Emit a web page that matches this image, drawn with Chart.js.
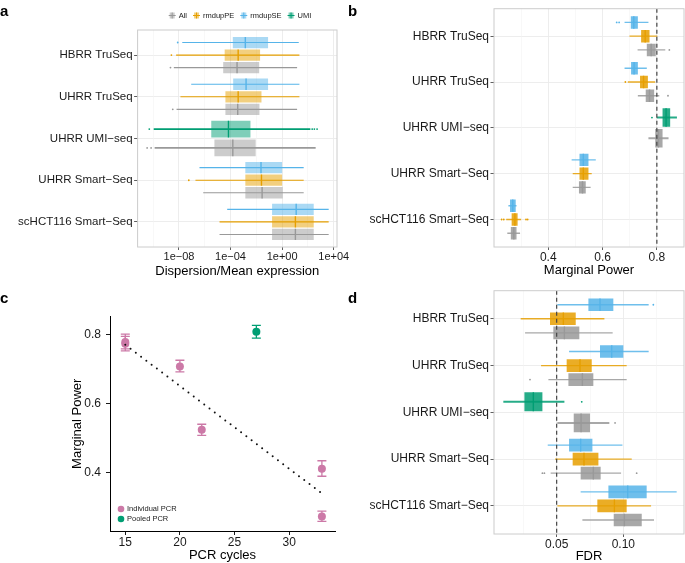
<!DOCTYPE html>
<html>
<head>
<meta charset="utf-8">
<script src="https://cdn.jsdelivr.net/npm/chart.js@4.4.1/dist/chart.umd.min.js"></script>
<style>
  body { margin: 0; width: 685px; height: 563px; position: relative; overflow: hidden; background: #fff;
         font-family: "Liberation Sans", Arial, sans-serif; }
  canvas { position: absolute; }
  .tag { position: absolute; font-size: 15px; font-weight: bold; line-height: 15px; color: #000; }
</style>
</head>
<body>
<canvas id="panelA" width="360" height="282" style="left:0;top:0"></canvas>
<canvas id="panelB" width="340" height="282" style="left:345px;top:0"></canvas>
<canvas id="panelC" width="345" height="283" style="left:0;top:280px"></canvas>
<canvas id="panelD" width="340" height="284" style="left:345px;top:282px"></canvas>
<div class="tag" style="left:0px;top:3px">a</div>
<div class="tag" style="left:348px;top:3px">b</div>
<div class="tag" style="left:0px;top:290px">c</div>
<div class="tag" style="left:348px;top:290px">d</div>
<script>
const cats = ['HBRR TruSeq', 'UHRR TruSeq', 'UHRR UMI−seq', 'UHRR Smart−Seq', 'scHCT116 Smart−Seq'];
// order of the boxes inside one row, top to bottom
const groupOrder = ['rmdupSE', 'rmdupPE', 'UMI', 'All'];
const legendOrder = ['All', 'rmdupPE', 'rmdupSE', 'UMI'];
const groupColor = { rmdupSE: '#56B4E9', rmdupPE: '#E69F00', UMI: '#009E73', All: '#999999' };

// a) dispersion / mean expression, [low whisker, q1, median, q3, high whisker]
const dispSE = [[1.8e-8, 1.5e-4, 1.4e-3, 0.081, 19.5], [8.9e-8, 1.6e-4, 1.6e-3, 0.081, 21.9], null,
                [3.9e-7, 1.4e-3, 0.023, 1.0, 47], [5.5e-5, 0.166, 12.3, 282, 4070]];
const dispPE = [[6.0e-9, 3.5e-5, 3.9e-4, 0.0195, 21.9], [1.3e-8, 4.0e-5, 3.9e-4, 0.025, 21.9], null,
                [1.9e-7, 1.4e-3, 0.025, 1.0, 47], [1.4e-5, 0.166, 10.7, 282, 4070]];
const dispUMI = [null, null, [1.1e-10, 3.2e-6, 6.9e-5, 3.5e-3, 155], null, null];
const dispAll = [[4.0e-9, 2.7e-5, 3.2e-4, 0.0166, 14.5], [6.5e-9, 4.0e-5, 3.6e-4, 0.0174, 14.5],
                 [1.3e-10, 5.6e-6, 1.5e-4, 8.9e-3, 398], [7.6e-7, 1.4e-3, 0.028, 1.1, 47],
                 [1.4e-5, 0.166, 10.7, 282, 4070]];
const dispOutSE = [[8e-9], [], [], [], []];
const dispOutPE = [[2.6e-9], [], [], [5.8e-8], []];
const dispOutUMI = [[], [], [5e-11, 214, 316, 513], [], []];
const dispOutAll = [[2.2e-9], [3.3e-9], [3.4e-11, 6.9e-11], [], []];
const dispTicks = [1e-8, 1e-4, 1, 1e4];
const dispMinor = [1e-10, 1e-6, 1e-2, 1e2];

// b) marginal power
const powerSE = [[0.681, 0.704, 0.715, 0.730, 0.769], [0.681, 0.705, 0.716, 0.730, 0.763], null,
                 [0.486, 0.515, 0.529, 0.548, 0.575], [0.253, 0.259, 0.269, 0.280, 0.283]];
const powerPE = [[0.699, 0.742, 0.757, 0.773, 0.802], [0.693, 0.738, 0.751, 0.767, 0.794], null,
                 [0.490, 0.515, 0.529, 0.548, 0.560], [0.245, 0.265, 0.277, 0.287, 0.300]];
const powerUMI = [null, null, [0.800, 0.821, 0.834, 0.849, 0.874], null, null];
const powerAll = [[0.729, 0.763, 0.779, 0.796, 0.831], [0.730, 0.759, 0.773, 0.790, 0.809],
                  [0.769, 0.794, 0.806, 0.821, 0.843], [0.490, 0.513, 0.526, 0.538, 0.556],
                  [0.249, 0.262, 0.273, 0.283, 0.296]];
const powerOutSE = [[0.652, 0.661], [], [], [], []];
const powerOutPE = [[], [0.684], [], [], [0.228, 0.236, 0.318, 0.324]];
const powerOutUMI = [[], [], [0.782], [], []];
const powerOutAll = [[0.846], [0.841], [], [], []];
const powerTicks = [0.4, 0.6, 0.8];
const powerMinor = [0.3, 0.5, 0.7];
const powerTarget = 0.8;

// d) FDR
const fdrSE = [[0.0505, 0.0738, 0.0825, 0.0925, 0.119], [0.0593, 0.0825, 0.0913, 0.100, 0.119], null,
               [0.0433, 0.0593, 0.068, 0.0768, 0.0993], [0.068, 0.0888, 0.1033, 0.1175, 0.140]];
const fdrPE = [[0.023, 0.045, 0.055, 0.0643, 0.0858], [0.0383, 0.0575, 0.0675, 0.0763, 0.1025], null,
               [0.0488, 0.062, 0.0705, 0.0813, 0.1063], [0.0505, 0.0805, 0.0933, 0.1025, 0.1208]];
const fdrUMI = [null, null, [0.010, 0.0258, 0.0325, 0.0393, 0.0558], null, null];
const fdrAll = [[0.0263, 0.0475, 0.0558, 0.067, 0.092], [0.0438, 0.0588, 0.0693, 0.0775, 0.1025],
                [0.0505, 0.0628, 0.0683, 0.075, 0.0895], [0.0455, 0.068, 0.0775, 0.083, 0.0983],
                [0.0693, 0.0928, 0.1008, 0.1138, 0.123]];
const fdrOutSE = [[0.1225], [], [], [], []];
const fdrOutPE = [[], [], [], [], []];
const fdrOutUMI = [[], [], [0.0688], [], []];
const fdrOutAll = [[], [0.030], [0.0938], [0.0393, 0.0408, 0.110], []];
const fdrTicks = [0.05, 0.10];
const fdrMinor = [0.025, 0.075, 0.125];
const fdrTarget = 0.05;

// c) marginal power vs PCR cycles
const pcrX = [15, 15, 20, 22, 33, 33];
const pcrPower = [0.779, 0.774, 0.708, 0.524, 0.411, 0.272];
const pcrLow = [0.753, 0.759, 0.692, 0.508, 0.389, 0.258];
const pcrHigh = [0.802, 0.795, 0.726, 0.540, 0.434, 0.288];
const pooledX = [27];
const pooledPower = [0.809];
const pooledLow = [0.790];
const pooledHigh = [0.827];
const trendX = [15, 33];
const trendY = [0.771, 0.339];
const cycleTicks = [15, 20, 25, 30];
const cPowerTicks = [0.4, 0.6, 0.8];

const FONT = '"Liberation Sans", Arial, sans-serif';
Chart.defaults.font.family = FONT;
Chart.defaults.color = '#1a1a1a';

function rgba(hex, a) {
    const n = parseInt(hex.slice(1), 16);
    return `rgba(${n >> 16},${(n >> 8) & 255},${n & 255},${a})`;
}

// one box dataset and one whisker dataset per group, sharing a stack slot
function boxSets(stats, outs, boxAlpha, lineAlpha) {
    const boxes = [], whiskers = [];
    groupOrder.forEach((g) => {
        const s = stats[g], col = groupColor[g];
        boxes.push({
            label: g, stack: g, skipNull: true,
            barPercentage: 0.9, categoryPercentage: 0.9,
            backgroundColor: rgba(col, boxAlpha), borderWidth: 0,
            data: s.map((v, i) => ({ y: i, x: v ? [v[1], v[3]] : null })),
            medians: s.map((v) => (v ? v[2] : null)),
            medianColor: col,
        });
        whiskers.push({
            label: g + ' range', stack: g, skipNull: true,
            barPercentage: 0.095, categoryPercentage: 0.9,
            backgroundColor: rgba(col, lineAlpha), borderWidth: 0,
            data: s.map((v, i) => ({ y: i, x: v ? [v[0], v[4]] : null })),
            outliers: outs[g], dotColor: col,
        });
    });
    return boxes.concat(whiskers);
}

const extras = {
    id: 'extras',
    beforeDatasetsDraw(chart, args, opts) {
        // error bars for panel c
        const ctx = chart.ctx, ys = chart.scales.y;
        chart.data.datasets.forEach((ds, di) => {
            if (!ds.low) return;
            chart.getDatasetMeta(di).data.forEach((pt, i) => {
                const y1 = ys.getPixelForValue(ds.low[i]), y2 = ys.getPixelForValue(ds.high[i]);
                ctx.save();
                ctx.strokeStyle = ds.backgroundColor;
                ctx.lineWidth = 1.3;
                ctx.beginPath();
                ctx.moveTo(pt.x, y1); ctx.lineTo(pt.x, y2);
                ctx.moveTo(pt.x - 4.5, y1); ctx.lineTo(pt.x + 4.5, y1);
                ctx.moveTo(pt.x - 4.5, y2); ctx.lineTo(pt.x + 4.5, y2);
                ctx.stroke();
                ctx.restore();
            });
        });
    },
    afterDatasetsDraw(chart, args, opts) {
        const ctx = chart.ctx, area = chart.chartArea, xs = chart.scales.x;
        ctx.save();
        ctx.beginPath();
        ctx.rect(area.left, area.top, area.right - area.left, area.bottom - area.top);
        ctx.clip();
        chart.data.datasets.forEach((ds, di) => {
            const bars = chart.getDatasetMeta(di).data;
            if (ds.medians) {
                bars.forEach((bar, i) => {
                    if (ds.medians[i] == null) return;
                    const px = xs.getPixelForValue(ds.medians[i]);
                    ctx.strokeStyle = ds.medianColor;
                    ctx.lineWidth = 1.4;
                    ctx.beginPath();
                    ctx.moveTo(px, bar.y - bar.height / 2);
                    ctx.lineTo(px, bar.y + bar.height / 2);
                    ctx.stroke();
                });
            }
            if (ds.outliers) {
                bars.forEach((bar, i) => {
                    (ds.outliers[i] || []).forEach((v) => {
                        ctx.fillStyle = ds.dotColor;
                        ctx.beginPath();
                        ctx.arc(xs.getPixelForValue(v), bar.y, 0.9, 0, 2 * Math.PI);
                        ctx.fill();
                    });
                });
            }
        });
        if (opts.refLine != null) {
            const px = xs.getPixelForValue(opts.refLine);
            ctx.strokeStyle = '#444';
            ctx.lineWidth = 1.2;
            ctx.setLineDash([4, 3]);
            ctx.beginPath();
            ctx.moveTo(px, area.top);
            ctx.lineTo(px, area.bottom);
            ctx.stroke();
        }
        ctx.restore();

        if (opts.frame) {
            ctx.save();
            ctx.strokeStyle = '#cccccc';
            ctx.lineWidth = 1;
            ctx.strokeRect(area.left, area.top, area.right - area.left, area.bottom - area.top);
            ctx.restore();
        }

        // boxplot legend for panel a
        if (opts.boxLegend) {
            const L = opts.boxLegend;
            ctx.save();
            ctx.font = '7.5px ' + FONT;
            ctx.textBaseline = 'middle';
            const widths = L.groups.map((g) => 10 + ctx.measureText(g).width);
            const total = widths.reduce((a, b) => a + b, 0) + 6 * (L.groups.length - 1);
            let x = L.centerX - total / 2;
            L.groups.forEach((g, k) => {
                const col = groupColor[g];
                ctx.strokeStyle = col;
                ctx.lineWidth = 1;
                ctx.beginPath();
                ctx.moveTo(x, L.y); ctx.lineTo(x + 7, L.y);
                ctx.stroke();
                ctx.fillStyle = rgba(col, L.alpha);
                ctx.fillRect(x + 1, L.y - 3, 5, 6);
                ctx.beginPath();
                ctx.moveTo(x + 3.5, L.y - 3); ctx.lineTo(x + 3.5, L.y + 3);
                ctx.stroke();
                ctx.fillStyle = '#1a1a1a';
                ctx.fillText(g, x + 10, L.y);
                x += widths[k] + 6;
            });
            ctx.restore();
        }

        // point legend for panel c
        if (opts.dotLegend) {
            const L = opts.dotLegend;
            ctx.save();
            ctx.font = '7.5px ' + FONT;
            ctx.textBaseline = 'middle';
            L.items.forEach((it, k) => {
                const y = area.bottom - L.dy + k * 10;
                ctx.fillStyle = it.color;
                ctx.beginPath();
                ctx.arc(area.left + L.dx, y, 3.3, 0, 2 * Math.PI);
                ctx.fill();
                ctx.fillStyle = '#1a1a1a';
                ctx.fillText(it.label, area.left + L.dx + 6, y);
            });
            ctx.restore();
        }
    },
};

function valueGrid() {
    return {
        color: (c) => (c.tick && c.tick.minor ? '#f3f3f3' : '#ebebeb'),
        lineWidth: (c) => (c.tick && c.tick.minor ? 0.6 : 0.9),
        tickColor: (c) => (c.tick && c.tick.minor ? 'rgba(0,0,0,0)' : '#4d4d4d'),
        tickLength: 3,
    };
}

function boxPanel(id, o) {
    return new Chart(document.getElementById(id), {
        type: 'bar',
        data: { datasets: boxSets(o.stats, o.outs, o.boxAlpha, o.lineAlpha) },
        options: {
            indexAxis: 'y',
            responsive: false,
            animation: false,
            devicePixelRatio: 1,
            layout: { padding: o.padding },
            plugins: {
                legend: { display: false },
                tooltip: { enabled: false },
                extras: { frame: true, refLine: o.refLine, boxLegend: o.legend },
            },
            scales: {
                y: {
                    type: 'linear', min: -0.6, max: cats.length - 0.4, reverse: true, offset: false,
                    afterBuildTicks: (s) => { s.ticks = cats.map((c, i) => ({ value: i })); },
                    afterFit: (s) => { s.width = o.yWidth; },
                    grid: { offset: false, color: '#ebebeb', lineWidth: 0.9, tickColor: '#4d4d4d', tickLength: 3.5 },
                    border: { display: false },
                    ticks: { autoSkip: false, padding: 1.5, font: { size: o.catSize }, color: '#1a1a1a',
                             callback: (v) => cats[v] },
                },
                x: {
                    type: o.logX ? 'logarithmic' : 'linear', min: o.min, max: o.max,
                    stacked: false, beginAtZero: false, offset: false,
                    afterBuildTicks: (s) => {
                        s.ticks = o.major.map((v) => ({ value: v }))
                            .concat(o.minor.map((v) => ({ value: v, minor: true })))
                            .sort((a, b) => a.value - b.value);
                    },
                    afterFit: (s) => { s.height = o.xHeight; },
                    grid: valueGrid(),
                    border: { display: false },
                    ticks: { autoSkip: false, maxRotation: 0, padding: o.tickPad, font: { size: o.tickSize },
                             color: '#1a1a1a', callback: (v, i, t) => (t[i].minor ? '' : o.fmt(v)) },
                    title: { display: true, text: o.title, font: { size: 13 }, color: '#000',
                             padding: { top: 0, bottom: o.titlePad } },
                },
            },
        },
        plugins: [extras],
    });
}

function sci(v) {
    const e = Math.round(Math.log10(v));
    return '1e' + (e < 0 ? '−' : '+') + String(Math.abs(e)).padStart(2, '0');
}

boxPanel('panelA', {
    stats: { rmdupSE: dispSE, rmdupPE: dispPE, UMI: dispUMI, All: dispAll },
    outs: { rmdupSE: dispOutSE, rmdupPE: dispOutPE, UMI: dispOutUMI, All: dispOutAll },
    boxAlpha: 0.5, lineAlpha: 1,
    padding: { top: 30, right: 23, left: 0, bottom: 0 },
    yWidth: 137.6, xHeight: 35, catSize: 11.5, tickSize: 11, tickPad: 0.5, titlePad: 2.5,
    logX: true, min: 6.2e-12, max: 1.8e4, major: dispTicks, minor: dispMinor, fmt: sci,
    title: 'Dispersion/Mean expression',
    legend: { groups: legendOrder, centerX: 240, y: 15.5, alpha: 0.5 },
});

boxPanel('panelB', {
    stats: { rmdupSE: powerSE, rmdupPE: powerPE, UMI: powerUMI, All: powerAll },
    outs: { rmdupSE: powerOutSE, rmdupPE: powerOutPE, UMI: powerOutUMI, All: powerOutAll },
    boxAlpha: 0.85, lineAlpha: 0.85,
    padding: { top: 1, right: 1, left: 0, bottom: 0 },
    yWidth: 149, xHeight: 35, catSize: 12, tickSize: 12, tickPad: 0.8, titlePad: 4,
    min: 0.2, max: 0.9, major: powerTicks, minor: powerMinor, fmt: (v) => v.toFixed(1),
    title: 'Marginal Power', refLine: powerTarget,
});

boxPanel('panelD', {
    stats: { rmdupSE: fdrSE, rmdupPE: fdrPE, UMI: fdrUMI, All: fdrAll },
    outs: { rmdupSE: fdrOutSE, rmdupPE: fdrOutPE, UMI: fdrOutUMI, All: fdrOutAll },
    boxAlpha: 0.85, lineAlpha: 0.85,
    padding: { top: 4, right: 1, left: 0, bottom: 0 },
    yWidth: 149, xHeight: 32, catSize: 12, tickSize: 12, tickPad: 0, titlePad: 1.5,
    min: 0.003, max: 0.1455, major: fdrTicks, minor: fdrMinor, fmt: (v) => v.toFixed(2),
    title: 'FDR', refLine: fdrTarget,
});

const pink = '#CC79A7', green = '#009E73';
new Chart(document.getElementById('panelC'), {
    type: 'scatter',
    data: {
        datasets: [
            {
                type: 'line', label: 'Linear fit',
                data: trendX.map((x, i) => ({ x, y: trendY[i] })),
                borderColor: '#111', borderWidth: 2, borderDash: [0, 6.6], borderCapStyle: 'round',
                pointRadius: 0, fill: false, tension: 0,
            },
            {
                label: 'Individual PCR',
                data: pcrX.map((x, i) => ({ x, y: pcrPower[i] })),
                backgroundColor: pink, borderWidth: 0, pointRadius: 4,
                low: pcrLow, high: pcrHigh,
            },
            {
                label: 'Pooled PCR',
                data: pooledX.map((x, i) => ({ x, y: pooledPower[i] })),
                backgroundColor: green, borderWidth: 0, pointRadius: 4,
                low: pooledLow, high: pooledHigh,
            },
        ],
    },
    options: {
        responsive: false,
        animation: false,
        devicePixelRatio: 1,
        layout: { padding: { top: 36.5, right: 10, left: 0, bottom: 0 } },
        plugins: {
            legend: { display: false },
            tooltip: { enabled: false },
            extras: {
                dotLegend: { dx: 11, dy: 22, items: [{ label: 'Individual PCR', color: pink }, { label: 'Pooled PCR', color: green }] },
            },
        },
        scales: {
            x: {
                type: 'linear', min: 13.6, max: 34.2,
                afterBuildTicks: (s) => { s.ticks = cycleTicks.map((v) => ({ value: v })); },
                afterFit: (s) => { s.height = 32; },
                grid: { display: true, drawOnChartArea: false, tickLength: 4, tickColor: '#1a1a1a' },
                border: { display: true, color: '#000', width: 1 },
                ticks: { autoSkip: false, maxRotation: 0, padding: 0, font: { size: 12 }, color: '#1a1a1a' },
                title: { display: true, text: 'PCR cycles', font: { size: 13 }, color: '#000', padding: { top: 0, bottom: 0.2 } },
            },
            y: {
                type: 'linear', min: 0.230, max: 0.853,
                afterBuildTicks: (s) => { s.ticks = cPowerTicks.map((v) => ({ value: v })); },
                afterFit: (s) => { s.width = 110; },
                grid: { display: true, drawOnChartArea: false, tickLength: 4, tickColor: '#1a1a1a' },
                border: { display: true, color: '#000', width: 1 },
                ticks: { autoSkip: false, padding: 5, font: { size: 12 }, color: '#1a1a1a',
                         callback: (v) => v.toFixed(1) },
                title: { display: true, text: 'Marginal Power', font: { size: 13 }, color: '#000', padding: { top: 70, bottom: 0 } },
            },
        },
    },
    plugins: [extras],
});
</script>
</body>
</html>
